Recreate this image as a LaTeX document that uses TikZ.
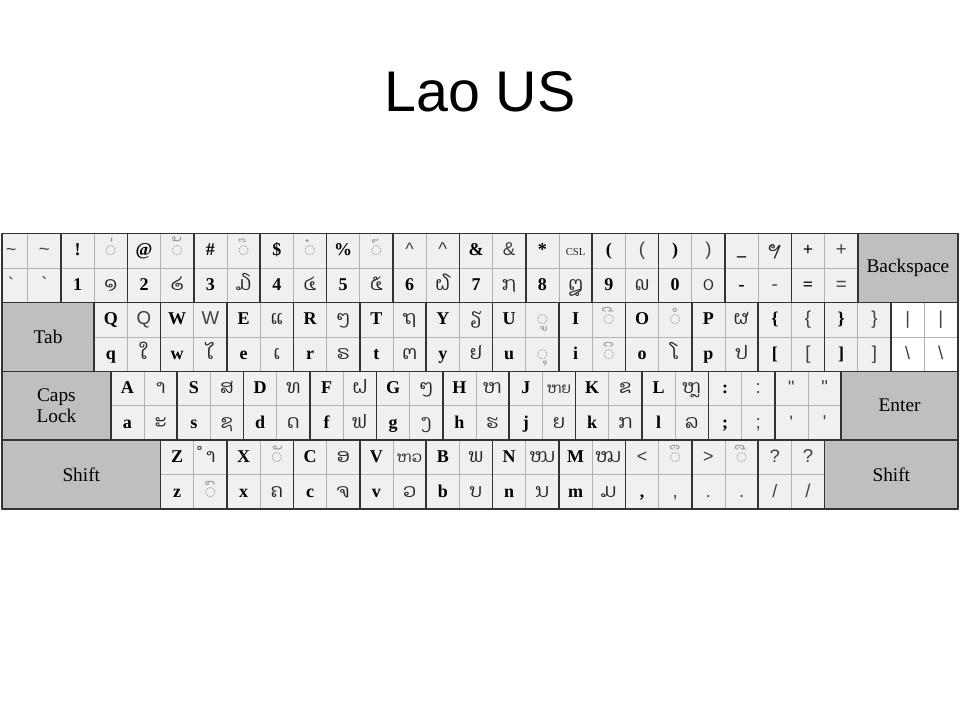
\documentclass[tikz,border=0pt]{standalone}
\usepackage{fontspec}
\setmainfont{Liberation Serif}
\newfontfamily\laofont[Script=Lao]{Dhyana}
\newfontfamily\symf{Liberation Sans}
\newfontfamily\titlef{Liberation Sans}

\newcommand\faint[1]{\textcolor{black!40}{#1}}
\newcommand\keysym[1]{{\symf\mdseries\color{black!75}#1}}
\newcommand\pair[1]{{\fontsize{11}{11}\selectfont#1}}

% one row of keys: #1 row, #2 left edge of the first key, #3 keys
\newcommand\keyrow[3]{%
  \foreach \a/\b/\c/\d [count=\i] in {#3} {
    \pgfmathsetmacro\kx{#2+(\i-1)*66.4}
    \pgfmathsetmacro\ky{233.5+(#1-1)*68.9}
    \draw[cell] (\kx+33.2,\ky) -- ++(0,68.9) (\kx,\ky+34.45) -- ++(66.4,0);
    \draw[keyedge] (\kx,\ky) rectangle ++(66.4,68.9);
    \node[eng] (k#1-\i a) at (\kx+16.6,\ky+22.5) {\a};
    \node[lao] (k#1-\i b) at (\kx+49.8,\ky+22.5) {\b};
    \node[eng] (k#1-\i c) at (\kx+16.6,\ky+57) {\c};
    \node[lao] (k#1-\i d) at (\kx+49.8,\ky+57) {\d};
  }%
}

\begin{document}
\begin{tikzpicture}[
    x=0.75pt,y=-0.75pt,
    line cap=round,
    line join=round,
    keyfill/.style={fill=black!6},
    cell/.style={draw=black!30, line width=0.5pt},
    keyedge/.style={draw=black!80, line width=1.1pt},
    modkey/.style={draw=black!80, fill=black!25, line width=1.1pt},
    eng/.style={anchor=base, inner sep=0pt, font=\fontsize{13.5}{14}\selectfont\bfseries},
    lao/.style={anchor=base, inner sep=0pt, text=black!85, font=\fontsize{14}{14}\laofont},
    modlabel/.style={inner sep=0pt, align=center, font=\fontsize{14.5}{16}\selectfont},
    title/.style={inner sep=0pt, font=\fontsize{43}{43}\titlef}
]
\useasboundingbox (0,0) rectangle (960,720);

\node[title] (title) at (480,92) {Lao US};

\fill[keyfill] (2,233.5) rectangle (958,509);
\fill[white] (890.2,302.4) rectangle (958,371.3);

\begin{scope}
\clip (2,233.5) rectangle (958,509);
\keyrow{1}{-5.4}{
  \keysym{\textasciitilde}/\keysym{\textasciitilde}/\keysym{`}/\keysym{`},
  !/\faint{◌່}/1/໑,
  @/\faint{◌້}/2/໒,
  \#/\faint{◌໊}/3/໓,
  \$/\faint{◌໋}/4/໔,
  \%/\faint{◌໌}/5/໕,
  \keysym{\textasciicircum}/\keysym{\textasciicircum}/6/໖,
  \&/\keysym{\&}/7/໗,
  */{\rmfamily\fontsize{8}{8}\selectfont CSL}/8/໘,
  \relax(/\keysym{(}/9/໙,
  \relax)/\keysym{)}/0/໐,
  \_/ຯ/-/\keysym{-},
  +/\keysym{+}/=/\keysym{=}}
\keyrow{2}{94.2}{
  Q/\keysym{Q}/q/ໃ,
  W/\keysym{W}/w/ໄ,
  E/ແ/e/ເ,
  R/ໆ/r/ຣ,
  T/ຖ/t/ຕ,
  Y/ຽ/y/ຢ,
  U/\faint{◌ູ}/u/\faint{◌ຸ},
  I/\faint{◌ີ}/i/\faint{◌ິ},
  O/\faint{◌ໍ}/o/ໂ,
  P/ຜ/p/ປ,
  \{/\keysym{\{}/[/\keysym{[},
  \}/\keysym{\}}/]/\keysym{]},
  \keysym{|}/\keysym{|}/\keysym{\textbackslash}/\keysym{\textbackslash}}
\keyrow{3}{110.8}{
  A/າ/a/ະ,
  S/ສ/s/ຊ,
  D/ທ/d/ດ,
  F/ຝ/f/ຟ,
  G/ໆ/g/ງ,
  H/ຫ/h/ຮ,
  J/\pair{ຫຍ}/j/ຍ,
  K/ຂ/k/ກ,
  L/ຫຼ/l/ລ,
  :/\keysym{:}/;/\keysym{;},
  \keysym{"}/\keysym{"}/\keysym{'}/\keysym{'}}
\keyrow{4}{160.6}{
  Z/ຳ/z/\faint{◌ົ},
  X/\faint{◌ັ}/x/ຄ,
  C/ອ/c/ຈ,
  V/\pair{ຫວ}/v/ວ,
  B/ພ/b/ບ,
  N/ໜ/n/ນ,
  M/ໝ/m/ມ,
  \keysym{<}/\faint{◌ຶ}/{,}/\keysym{,},
  \keysym{>}/\faint{◌ື}/\keysym{.}/\keysym{.},
  \keysym{?}/\keysym{?}/\keysym{\slash}/\keysym{\slash}}
\end{scope}

% special keys
\draw[modkey] (857.8,233.5) rectangle (958,302.4) node[pos=.5, modlabel] (backspace) {Backspace};
\draw[modkey] (2,302.4) rectangle (94.2,371.3) node[pos=.5, modlabel] (tab) {Tab};
\draw[modkey] (2,371.3) rectangle (110.8,440.2) node[pos=.5, modlabel] (caps) {Caps\\Lock};
\draw[modkey] (841.2,371.3) rectangle (958,440.2) node[pos=.5, modlabel] (enter) {Enter};
\draw[modkey] (2,440.2) rectangle (160.6,509) node[pos=.5, modlabel] (lshift) {Shift};
\draw[modkey] (824.6,440.2) rectangle (958,509) node[pos=.5, modlabel] (rshift) {Shift};

\draw[keyedge] (2,233.5) rectangle (958,509);

\end{tikzpicture}
\end{document}
